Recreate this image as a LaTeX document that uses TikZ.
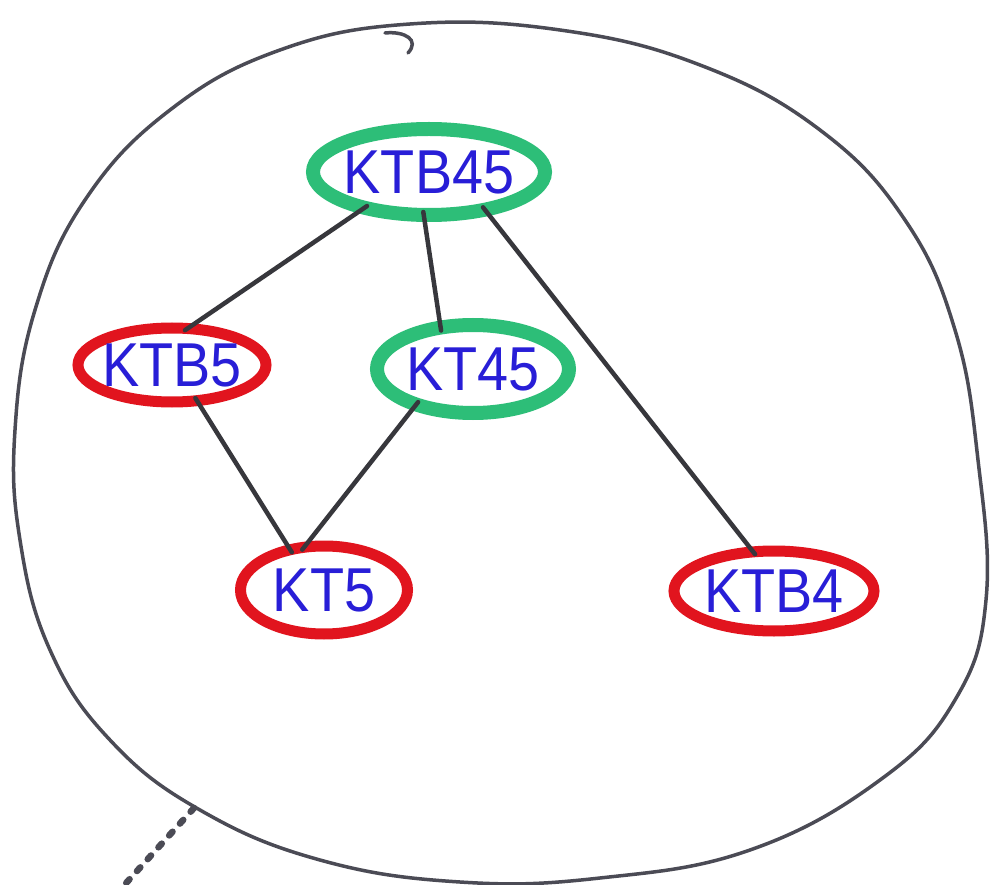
\documentclass[tikz,border=0pt]{standalone}
\usepackage{fontspec}
\newfontfamily\hand[FakeStretch=0.9]{Liberation Sans}
\usetikzlibrary{shapes.geometric}
\definecolor{mgreen}{RGB}{45,190,120}
\definecolor{mred}{RGB}{225,20,30}
\definecolor{mblue}{RGB}{40,30,215}
\definecolor{mline}{RGB}{55,55,60}
\definecolor{mblob}{RGB}{75,75,85}
\tikzset{
  kt/.style={ellipse, inner sep=0pt, outer sep=0pt, text=mblue, font=\hand\fontsize{62}{62}\selectfont},
  gnode/.style={kt, draw=mgreen, line width=14pt},
  rnode/.style={kt, draw=mred, line width=11pt},
  edge/.style={draw=mline, line width=4.5pt, line cap=round, shorten <=-3pt, shorten >=-3pt},
  blob/.style={draw=mblob, line width=3.5pt, line cap=round},
}
\begin{document}
\begin{tikzpicture}[x=1pt,y=-1pt]
\useasboundingbox (0,0) rectangle (991,885);
\fill[white] (0,0) rectangle (991,885);
% blob
\draw[blob] plot[smooth cycle, tension=0.7] coordinates {
 (410,24) (560,30) (700,65) (820,130) (905,220) (955,330) (978,460) (986,600)
 (955,700) (880,780) (750,850) (600,878) (460,882) (320,860) (200,810) (110,740)
 (50,650) (20,540) (15,430) (35,310) (85,200) (170,110) (280,50)};
\draw[blob] (385,33) .. controls (405,31) and (420,40) .. (408,53);
\draw[draw=mblob, line width=6.5pt, line cap=round, dash pattern=on 5pt off 11pt] (194,808) -- (118,892);
% nodes
\node[gnode, minimum width=232pt, minimum height=86pt] (ktb45) at (429,172) {\makebox[0pt]{KTB45}};
\node[rnode, minimum width=188pt, minimum height=74pt] (ktb5) at (172,365) {\makebox[0pt]{KTB5}};
\node[gnode, minimum width=192pt, minimum height=88pt] (kt45) at (473,369) {\makebox[0pt]{KT45}};
\node[rnode, minimum width=167pt, minimum height=88pt] (kt5) at (324,590) {\makebox[0pt]{KT5}};
\node[rnode, minimum width=200pt, minimum height=80pt] (ktb4) at (774,591) {\makebox[0pt]{KTB4}};
% edges
\draw[edge] (ktb45.209) -- (ktb5.67);
\draw[edge] (ktb45.263) -- (kt45.128);
\draw[edge] (ktb45.326) -- (ktb4.118);
\draw[edge] (ktb5.305) -- (kt5.130);
\draw[edge] (kt45.212) -- (kt5.115);
\end{tikzpicture}
\end{document}
